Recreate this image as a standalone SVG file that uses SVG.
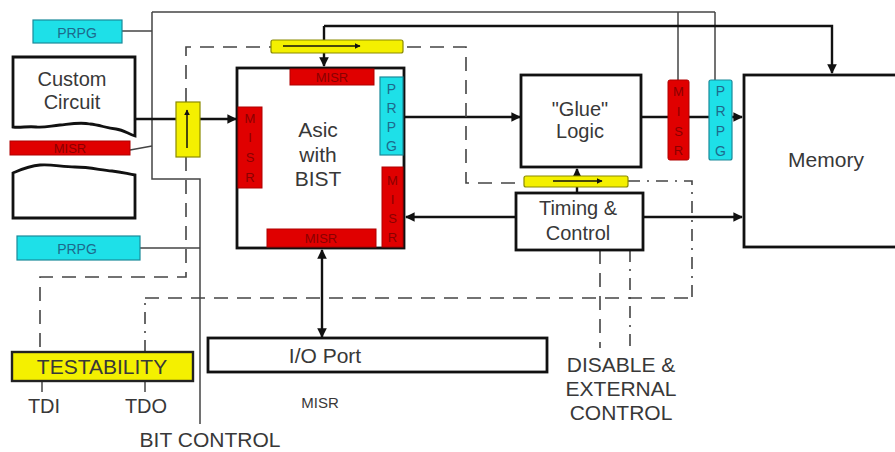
<svg xmlns="http://www.w3.org/2000/svg" width="895" height="452" viewBox="0 0 895 452">
<defs>
<style>
.box{fill:#fff;stroke:#111;stroke-width:2.8}
.misr{fill:#e00000;stroke:#b00000;stroke-width:1}
.prpg{fill:#1ee0e8;stroke:#1a8a9a;stroke-width:1.2}
.yel{fill:#f4f000;stroke:#8a8a00;stroke-width:1.2}
.t{font-family:"Liberation Sans",Arial,sans-serif;fill:#383838;text-anchor:middle}
.tm{font-family:"Liberation Sans",Arial,sans-serif;fill:#8a0000;text-anchor:middle;font-size:13px}
.tp{font-family:"Liberation Sans",Arial,sans-serif;fill:#1d6a8c;text-anchor:middle;font-size:14px}
.thin{fill:none;stroke:#444;stroke-width:1.5}
.thick{fill:none;stroke:#111;stroke-width:2.4}
.dash{fill:none;stroke:#444;stroke-width:1.6;stroke-dasharray:14 9}
.dd{fill:none;stroke:#444;stroke-width:1.6;stroke-dasharray:12 7 2 7}
</style>
<marker id="ah" viewBox="0 0 10 10" refX="9" refY="5" markerWidth="4" markerHeight="4" orient="auto-start-reverse">
<path d="M0,0 L10,5 L0,10 z" fill="#111"/>
</marker>
</defs>

<g id="connectors">
<polyline class="thin" points="122,31 152,31"/>
<polyline class="thin" points="152,12 152,179 200,179 200,424"/>
<polyline class="thin" points="152,12 715,12"/>
<line class="thin" x1="678" y1="12" x2="678" y2="80"/>
<line class="thin" x1="715" y1="12" x2="715" y2="80"/>
<line class="thin" x1="130" y1="150" x2="152" y2="146"/>
<line class="thin" x1="140" y1="248" x2="200" y2="248"/>
<polyline class="thick" points="324,26 832,26 832,73" marker-end="url(#ah)"/>
<line class="thick" x1="324" y1="26" x2="324" y2="66" marker-end="url(#ah)"/>
<line class="thick" x1="135" y1="119" x2="236" y2="119" marker-end="url(#ah)"/>
<line class="thick" x1="404" y1="117" x2="520" y2="117" marker-end="url(#ah)"/>
<line class="thick" x1="641" y1="117" x2="742" y2="117" marker-end="url(#ah)"/>
<line class="thick" x1="516" y1="217" x2="406" y2="217" marker-end="url(#ah)"/>
<line class="thick" x1="643" y1="217" x2="742" y2="217" marker-end="url(#ah)"/>
<line class="thick" x1="577" y1="193" x2="577" y2="169" marker-end="url(#ah)"/>
<line class="thick" x1="322" y1="250" x2="322" y2="337" marker-start="url(#ah)" marker-end="url(#ah)"/>
<polyline class="dash" points="186,102 186,47 466,47 466,183 524,183"/>
<polyline class="dash" points="186,157 186,277 40,277 40,352"/>
<polyline class="dd" points="628,181 692,181 692,298"/>
<polyline class="dd" points="145,352 145,298"/>
<polyline class="dash" points="145,298 692,298"/>
<line class="dash" x1="600" y1="250" x2="600" y2="348"/>
<line class="dd" x1="630" y1="250" x2="630" y2="348"/>
<line class="thin" x1="42" y1="381" x2="42" y2="392"/>
<line class="thin" x1="145" y1="381" x2="145" y2="392"/>
</g>

<g id="prpg-top">
<rect class="prpg" x="33" y="20" width="89" height="23"/>
<text class="tp" x="77" y="38" font-size="16">PRPG</text>
</g>

<g id="custom-circuit">
<path class="box" d="M13,57 L135,57 L135,136 C128,134 124,130 116,129 C106,128 100,125 90,124 C80,122 70,124 60,125 C50,126 44,128 36,127 C28,126 20,128 13,127 Z"/>
<text class="t" x="72" y="86" font-size="20">Custom</text>
<text class="t" x="72" y="109" font-size="20">Circuit</text>
</g>

<g id="misr-left">
<rect class="misr" x="10" y="141" width="120" height="14"/>
<text class="tm" x="70" y="153">MISR</text>
</g>

<g id="custom-circuit-lower">
<path class="box" d="M13,218 L13,173 C20,170 28,166 40,165 C52,164 62,167 75,167 C90,167 100,170 112,171 C122,172 128,174 135,175 L135,218 Z"/>
</g>

<g id="prpg-lower">
<rect class="prpg" x="17" y="236" width="123" height="24"/>
<text class="tp" x="77" y="254" font-size="16">PRPG</text>
</g>

<g id="yellow-vert">
<rect class="yel" x="176" y="102" width="24" height="55"/>
<line x1="187" y1="148" x2="187" y2="110" stroke="#111" stroke-width="1.5" marker-end="url(#ah)"/>
</g>

<g id="yellow-top">
<rect class="yel" x="271" y="40" width="132" height="13" rx="2"/>
<line x1="283" y1="46" x2="360" y2="46" stroke="#111" stroke-width="1.5" marker-end="url(#ah)"/>
</g>

<g id="asic">
<rect class="box" x="237" y="68" width="167" height="180"/>
<rect class="misr" x="290" y="69" width="84" height="16"/>
<text class="tm" x="332" y="82">MISR</text>
<rect class="prpg" x="380" y="77" width="23" height="78"/>
<text class="tp" x="391.5" y="94">P</text>
<text class="tp" x="391.5" y="113">R</text>
<text class="tp" x="391.5" y="132">P</text>
<text class="tp" x="391.5" y="151">G</text>
<rect class="misr" x="238" y="107" width="24" height="81"/>
<text class="tm" x="250" y="123">M</text>
<text class="tm" x="250" y="142">I</text>
<text class="tm" x="250" y="162">S</text>
<text class="tm" x="250" y="182">R</text>
<rect class="misr" x="382" y="167" width="21" height="80"/>
<text class="tm" x="392.5" y="185">M</text>
<text class="tm" x="392.5" y="204">I</text>
<text class="tm" x="392.5" y="223">S</text>
<text class="tm" x="392.5" y="242">R</text>
<rect class="misr" x="267" y="229" width="109" height="18"/>
<text class="tm" x="321" y="243">MISR</text>
<text class="t" x="318" y="137" font-size="21">Asic</text>
<text class="t" x="318" y="162" font-size="21">with</text>
<text class="t" x="318" y="186" font-size="21">BIST</text>
</g>

<g id="glue-logic">
<rect class="box" x="521" y="75" width="120" height="92"/>
<text class="t" x="580" y="116" font-size="20">"Glue"</text>
<text class="t" x="580" y="138" font-size="20">Logic</text>
</g>

<g id="yellow-mid">
<rect class="yel" x="524" y="176" width="104" height="11" rx="2"/>
<line x1="553" y1="181" x2="602" y2="181" stroke="#111" stroke-width="1.5" marker-end="url(#ah)"/>
</g>

<g id="timing-control">
<rect class="box" x="516" y="193" width="127" height="57"/>
<text class="t" x="578" y="215" font-size="20">Timing &amp;</text>
<text class="t" x="578" y="240" font-size="20">Control</text>
</g>

<g id="misr-mid">
<rect class="misr" x="668" y="80" width="21" height="80" rx="2"/>
<text class="tm" x="678.5" y="96">M</text>
<text class="tm" x="678.5" y="116">I</text>
<text class="tm" x="678.5" y="136">S</text>
<text class="tm" x="678.5" y="155">R</text>
</g>

<g id="prpg-mid">
<rect class="prpg" x="709" y="80" width="23" height="80" rx="2"/>
<text class="tp" x="720.5" y="96">P</text>
<text class="tp" x="720.5" y="116">R</text>
<text class="tp" x="720.5" y="136">P</text>
<text class="tp" x="720.5" y="156">G</text>
</g>

<g id="memory">
<rect class="box" x="744" y="75" width="160" height="172"/>
<text class="t" x="826" y="167" font-size="21">Memory</text>
</g>

<g id="io-port">
<rect class="box" x="208" y="338" width="339" height="34"/>
<text class="t" x="325" y="363" font-size="21">I/O Port</text>
</g>
<text class="t" x="320" y="408" font-size="15">MISR</text>

<g id="testability">
<rect x="12" y="352" width="181" height="29" fill="#f4f000" stroke="#222" stroke-width="2.4"/>
<text class="t" x="102" y="374" font-size="21">TESTABILITY</text>
</g>
<text class="t" x="44" y="413" font-size="20">TDI</text>
<text class="t" x="146" y="413" font-size="20">TDO</text>
<text class="t" x="210" y="447" font-size="21">BIT CONTROL</text>

<g id="disable-label">
<text class="t" x="621" y="372" font-size="21">DISABLE &amp;</text>
<text class="t" x="621" y="396" font-size="21">EXTERNAL</text>
<text class="t" x="621" y="420" font-size="21">CONTROL</text>
</g>
</svg>
